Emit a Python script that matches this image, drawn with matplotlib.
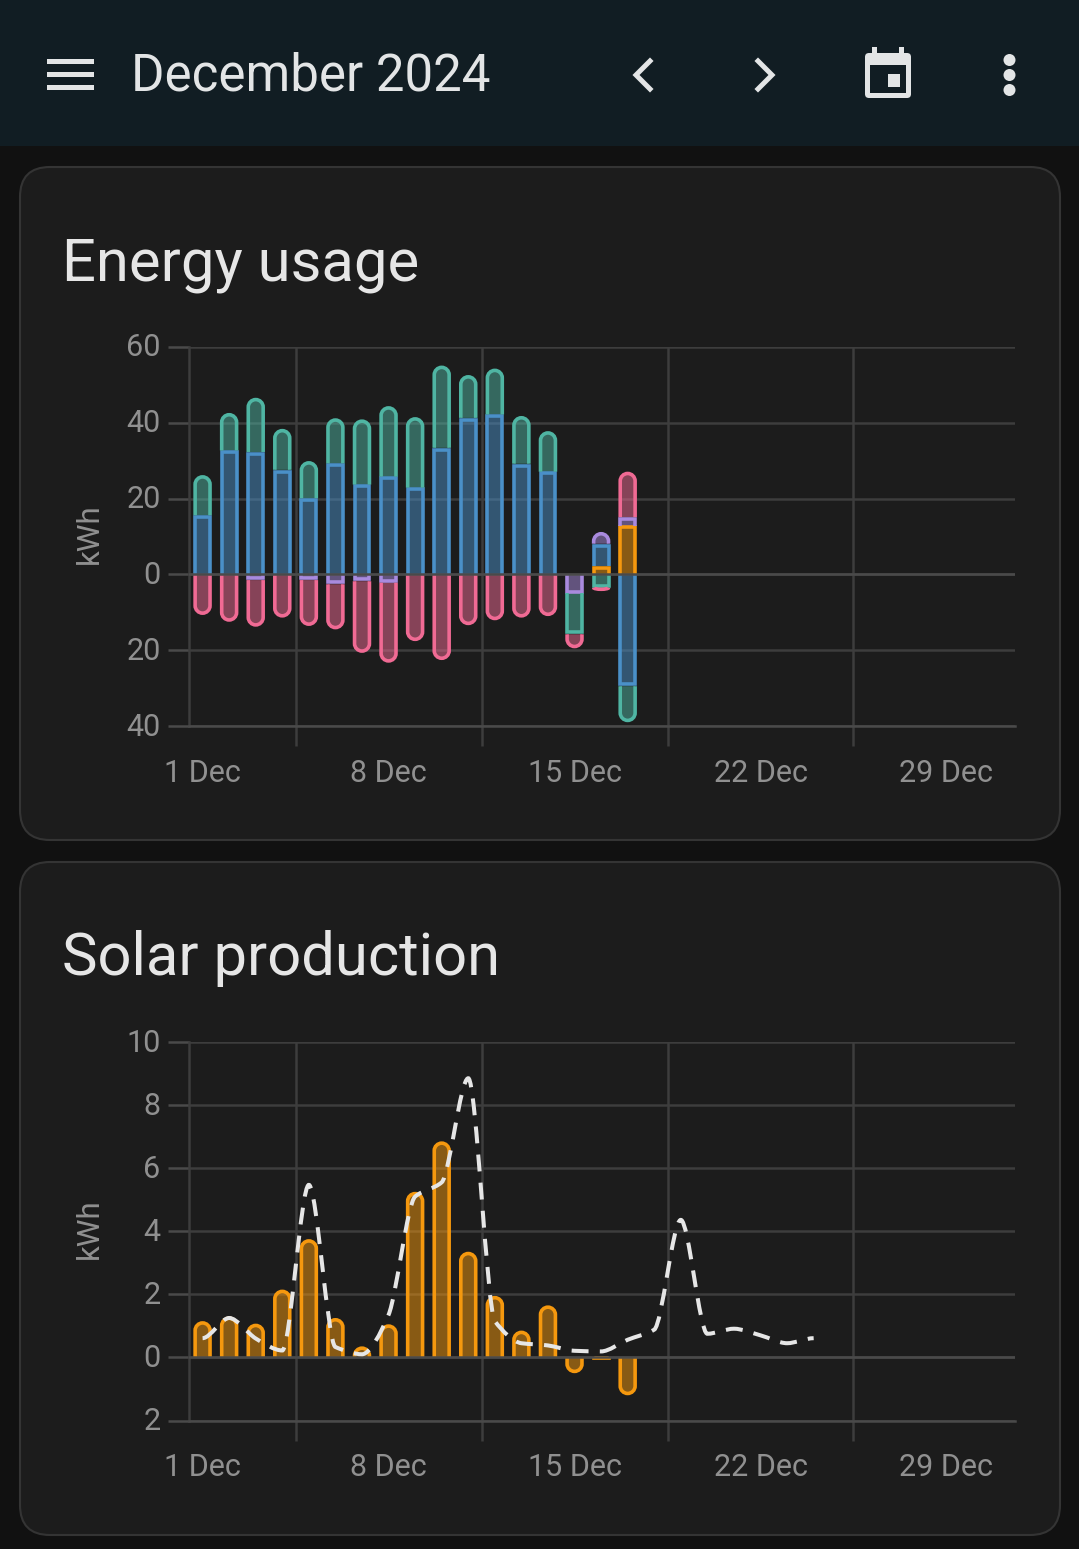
import matplotlib
matplotlib.use("Agg")
import matplotlib.pyplot as plt
import numpy as np
from matplotlib.patches import Circle, FancyBboxPatch, PathPatch, Rectangle
from matplotlib.path import Path
from matplotlib.transforms import ScaledTranslation

plt.rcParams['font.family'] = ['Roboto', 'DejaVu Sans']

W, H = 1079, 1549

# energy usage, one value per day (1 Dec onwards), kWh
days_usage = np.arange(17)
solar_up = [0, 0, 0, 0, 0, 0, 0, 0, 0, 0, 0, 0, 0, 0, 0, 2.2, 12.9]
grid_up = [15.6, 32.7, 32.3, 27.6, 20.1, 29.3, 23.7, 25.8, 22.9, 33.4, 41.3, 42.2, 29.2, 27.1, 0, 5.9, 0]
purple_up = [0, 0, 0, 0, 0, 0, 0, 0, 0, 0, 0, 0, 0, 0, 0, 3.1, 2.2]
green_up = [10.6, 9.9, 14.3, 10.8, 9.8, 11.9, 17.2, 18.6, 18.6, 21.7, 11.3, 12.1, 12.6, 10.7, 0, 0, 0]
pink_up = [0, 0, 0, 0, 0, 0, 0, 0, 0, 0, 0, 0, 0, 0, 0, 0, 12.0]

purple_down = [0, 0, 1.5, 0, 1.5, 2.6, 1.8, 2.2, 0, 0, 0, 0, 0, 0, 5.0, 0, 0]
grid_down = [0, 0, 0, 0, 0, 0, 0, 0, 0, 0, 0, 0, 0, 0, 0, 0, 29.5]
green_down = [0, 0, 0, 0, 0, 0, 0, 0, 0, 0, 0, 0, 0, 0, 10.8, 3.5, 9.5]
pink_down = [10.7, 12.5, 12.3, 11.4, 12.1, 11.9, 18.9, 21.1, 17.6, 22.6, 13.4, 12.1, 11.4, 11.0, 3.7, 0.9, 0]

# solar production
solar_bars = [1.15, 1.3, 1.07, 2.15, 3.75, 1.25, 0.35, 1.05, 5.25, 6.85, 3.35, 1.95,
              0.85, 1.65, -0.5, 0.03, -1.2]
solar_forecast = [0.61, 1.25, 0.6, 0.22, 5.47, 0.33, 0.1, 1.35, 5.1, 5.55, 8.85, 1.15,
                  0.45, 0.38, 0.21, 0.19, 0.56, 0.88, 4.36, 0.75, 0.91, 0.7, 0.45, 0.61]

day_labels = ['1 Dec', '8 Dec', '15 Dec', '22 Dec', '29 Dec']
label_days = [0, 7, 14, 21, 28]
week_edges = [3.5, 10.5, 17.5, 24.5]

BLUE = '#4a90c8'
GREEN = '#4fb5a3'
PINK = '#f06a94'
PURPLE = '#a98ade'
ORANGE = '#f5980e'
GRID = '#3d3d3d'
AXIS = '#4a4a4a'
TICK_TEXT = '#909090'

DAY_PX = 26.57
BAR_PX = 18.5
STROKE_PX = 3.6


def px_axes(fig, left, top, right, bottom):
    return fig.add_axes([left / W, 1 - bottom / H, (right - left) / W, (bottom - top) / H])


def draw_segment(ax, x, y0, y1, color, rounded, px_y):
    """One stacked piece: filled, stroked on the sides and the far end only."""
    if y0 == y1:
        return
    sign = 1 if y1 > y0 else -1
    hw = (BAR_PX - STROKE_PX) / 2 / DAY_PX
    tip = y1 - sign * (STROKE_PX / 2) / px_y
    height_px = abs(tip - y0) * px_y
    r_px = min((BAR_PX - STROKE_PX) / 2, height_px) if rounded else 0
    ry = sign * r_px / px_y
    k = 0.55
    if r_px > 0:
        verts = [(x - hw, y0), (x - hw, tip - ry),
                 (x - hw, tip - ry + k * ry), (x - k * hw, tip), (x, tip),
                 (x + k * hw, tip), (x + hw, tip - ry + k * ry), (x + hw, tip - ry),
                 (x + hw, y0)]
        codes = [Path.MOVETO, Path.LINETO, Path.CURVE4, Path.CURVE4, Path.CURVE4,
                 Path.CURVE4, Path.CURVE4, Path.CURVE4, Path.LINETO]
    else:
        verts = [(x - hw, y0), (x - hw, tip), (x + hw, tip), (x + hw, y0)]
        codes = [Path.MOVETO, Path.LINETO, Path.LINETO, Path.LINETO]
    ax.add_patch(PathPatch(Path(verts, codes), facecolor=color, edgecolor='none', alpha=0.5, zorder=3))
    ax.add_patch(PathPatch(Path(verts, codes), facecolor='none', edgecolor=color,
                           lw=STROKE_PX * 0.72, capstyle='butt', zorder=4))


def draw_stack(ax, days, stack, sign, px_y):
    base = np.zeros(len(days))
    heights = np.array([s for s, _ in stack], dtype=float)
    for j, (vals, color) in enumerate(stack):
        vals = np.array(vals, dtype=float)
        for i, x in enumerate(days):
            if vals[i] == 0:
                continue
            outer = heights[j + 1:, i].sum() == 0
            draw_segment(ax, x, sign * base[i], sign * (base[i] + vals[i]), color, outer, px_y)
        base = base + vals


def smooth_path(xs, ys, handle=0.3):
    # monotone bezier through the points, flat at the local extremes
    ys = np.array(ys, dtype=float)
    m = np.zeros(len(ys))
    for i in range(1, len(ys) - 1):
        a, b = ys[i] - ys[i - 1], ys[i + 1] - ys[i]
        if a * b > 0:
            m[i] = np.sign(a) * min(abs(a + b) / 2, 1.6 * min(abs(a), abs(b)))
    verts = [(xs[0], ys[0])]
    codes = [Path.MOVETO]
    for i in range(len(ys) - 1):
        verts += [(xs[i] + handle, ys[i] + m[i] * handle),
                  (xs[i + 1] - handle, ys[i + 1] - m[i + 1] * handle),
                  (xs[i + 1], ys[i + 1])]
        codes += [Path.CURVE4] * 3
    return Path(verts, codes)


def style_axes(ax, ylim, yticks, ylabels):
    ax.set_xlim(-0.53, 30.56)
    ax.set_ylim(*ylim)
    ax.patch.set_alpha(0)
    for side in ['top', 'right']:
        ax.spines[side].set_visible(False)
    ax.spines['left'].set_color(GRID)
    ax.spines['left'].set_linewidth(1.8)
    ax.spines['bottom'].set_color(AXIS)
    ax.spines['bottom'].set_linewidth(1.8)
    ax.set_yticks(yticks, ylabels)
    ax.tick_params(axis='y', length=15, width=1.8, color=AXIS, labelcolor=TICK_TEXT,
                   labelsize=22, pad=5)
    # labels sit a touch above their gridline
    up = ScaledTranslation(0, 0.02, fig.dpi_scale_trans)
    for lab in ax.get_yticklabels():
        lab.set_transform(lab.get_transform() + up)
    ax.set_xticks(week_edges, [''] * len(week_edges))
    ax.tick_params(axis='x', which='major', length=14.5, width=1.8, color=GRID)
    ax.set_xticks(label_days, day_labels, minor=True)
    ax.tick_params(axis='x', which='minor', length=0, labelcolor=TICK_TEXT, labelsize=22, pad=23.5)
    ax.grid(True, which='major', color=GRID, lw=1.8)
    ax.set_axisbelow(True)
    ax.axhline(0, color=AXIS, lw=1.8, zorder=5)
    ax.set_ylabel('kWh', color=TICK_TEXT, fontsize=22.5, labelpad=0)
    ax.yaxis.set_label_coords((104 - 189) / 826, 0.508)


fig = plt.figure(figsize=(W / 100, H / 100), dpi=100, facecolor='#111111')

# page chrome in pixel coordinates
bg = fig.add_axes([0, 0, 1, 1])
bg.set_xlim(0, W)
bg.set_ylim(H, 0)
bg.axis('off')
bg.add_patch(Rectangle((0, 0), W, 146, facecolor='#111d23', edgecolor='none'))
for top, bottom in [(167, 840), (862, 1535)]:
    bg.add_patch(FancyBboxPatch((20, top), 1040, bottom - top, boxstyle='round,pad=0,rounding_size=30',
                                facecolor='#1c1c1c', edgecolor='#343434', lw=1.5))
ICON = '#e3e5e6'
for y in [59, 72, 85]:
    bg.add_patch(Rectangle((47, y), 47, 5, facecolor=ICON, edgecolor='none'))
bg.plot([650, 636, 650], [61, 75, 89], color=ICON, lw=3.6, solid_joinstyle='miter')
bg.plot([758, 772, 758], [61, 75, 89], color=ICON, lw=3.6, solid_joinstyle='miter')
bg.add_patch(FancyBboxPatch((865, 53), 46, 45, boxstyle='round,pad=0,rounding_size=4',
                            facecolor=ICON, edgecolor='none'))
bg.add_patch(Rectangle((870, 65), 36, 28, facecolor='#111d23', edgecolor='none'))
bg.add_patch(Rectangle((888, 74), 12, 13, facecolor=ICON, edgecolor='none'))
for x in [872, 899]:
    bg.add_patch(Rectangle((x, 47), 5, 8, facecolor=ICON, edgecolor='none'))
for y in [60, 75, 90]:
    bg.add_patch(Circle((1009.5, y), 6, facecolor=ICON, edgecolor='none'))
bg.text(131, 90, 'December 2024', color=ICON, fontsize=36.7, va='baseline', ha='left')
bg.text(62, 280, 'Energy usage', color='#e6e6e6', fontsize=43, va='baseline', ha='left')
bg.text(62, 975, 'Solar production', color='#e6e6e6', fontsize=43, va='baseline', ha='left')

# energy usage chart
ax1 = px_axes(fig, 188.5, 347, 1014.5, 726)
style_axes(ax1, (-40, 60), [-40, -20, 0, 20, 40, 60], ['40', '20', '0', '20', '40', '60'])
px_y1 = 379 / 100
draw_stack(ax1, days_usage, [(solar_up, ORANGE), (grid_up, BLUE), (purple_up, PURPLE),
                             (green_up, GREEN), (pink_up, PINK)], 1, px_y1)
draw_stack(ax1, days_usage, [(purple_down, PURPLE), (grid_down, BLUE), (green_down, GREEN),
                             (pink_down, PINK)], -1, px_y1)

# solar production chart
ax2 = px_axes(fig, 188.5, 1042, 1014.5, 1420.5)
style_axes(ax2, (-2, 10), [-2, 0, 2, 4, 6, 8, 10], ['2', '0', '2', '4', '6', '8', '10'])
px_y2 = 378.5 / 12
for x, v in enumerate(solar_bars):
    draw_segment(ax2, x, 0, v, ORANGE, abs(v) > 0.1, px_y2)
ax2.add_patch(PathPatch(smooth_path(np.arange(len(solar_forecast)), solar_forecast),
                        facecolor='none', edgecolor='#e6e6e6', lw=2.9,
                        linestyle=(0, (4.2, 2.8)), capstyle='butt', zorder=6))

fig.savefig('out.png', dpi=100, facecolor=fig.get_facecolor())
